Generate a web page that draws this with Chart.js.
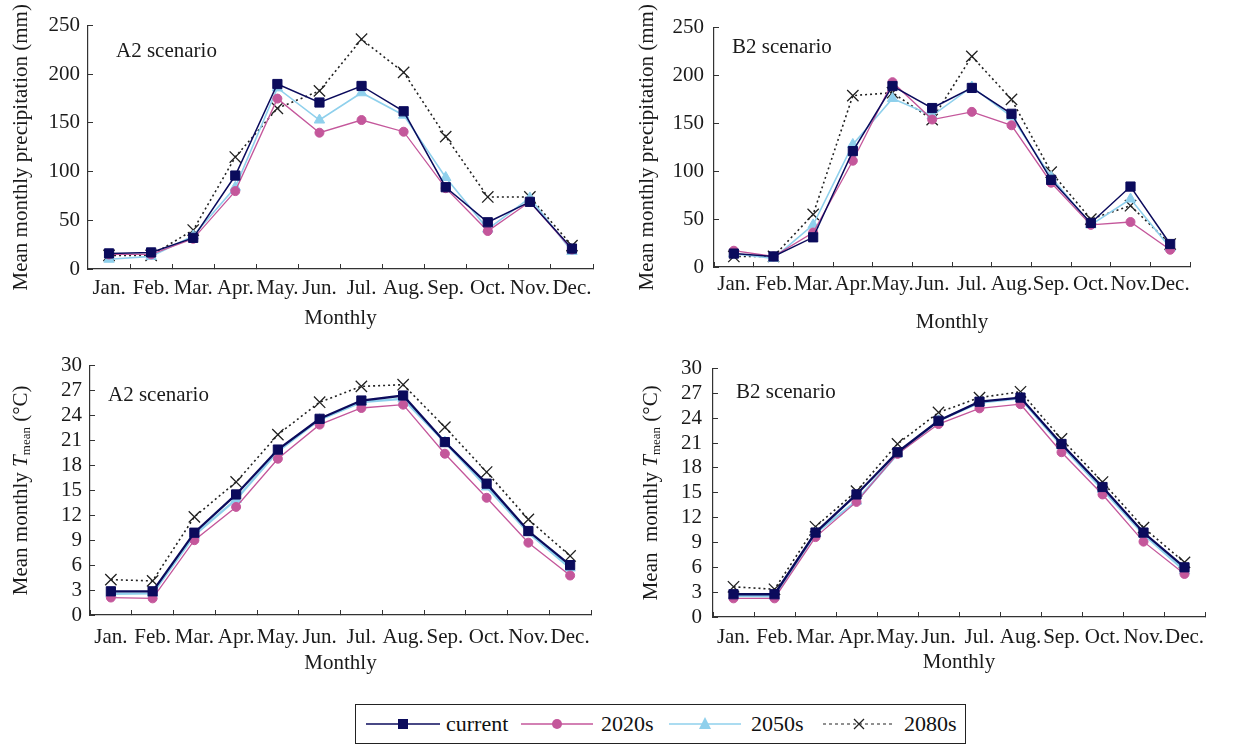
<!DOCTYPE html>
<html>
<head>
<meta charset="utf-8">
<script src="https://cdn.jsdelivr.net/npm/chart.js@4"></script>
<style>
  body { margin: 0; background: #fff; }
  #wrap { position: relative; width: 1235px; height: 747px; overflow: hidden; font-family: "Liberation Serif", "Times New Roman", serif; }
  canvas { position: absolute; }
  #legend { position: absolute; left: 355px; top: 704px; width: 609px; height: 38px; border: 1.5px solid #222; }
  #legend .s { position: absolute; top: 9px; }
  #legend .t { position: absolute; top: 6px; font-size: 22px; color: #111; }
</style>
</head>
<body>
<div id="wrap">
  <canvas id="c1" width="610" height="345" style="left:0;top:0"></canvas>
  <canvas id="c2" width="625" height="345" style="left:610px;top:0"></canvas>
  <canvas id="c3" width="610" height="345" style="left:0;top:340px"></canvas>
  <canvas id="c4" width="625" height="345" style="left:610px;top:340px"></canvas>
  <div id="legend">
    <svg class="s" style="left:10px" width="74" height="20"><line x1="0" y1="10" x2="74" y2="10" stroke="#0b0b5c" stroke-width="1.5"/><rect x="32" y="5" width="10" height="10" fill="#0b0b5c"/></svg>
    <span class="t" style="left:90px">current</span>
    <svg class="s" style="left:165px" width="72" height="20"><line x1="0" y1="10" x2="72" y2="10" stroke="#c4579b" stroke-width="1.5"/><circle cx="36" cy="10" r="5" fill="#c4579b"/></svg>
    <span class="t" style="left:245px">2020s</span>
    <svg class="s" style="left:313px" width="72" height="20"><line x1="0" y1="10" x2="72" y2="10" stroke="#8fd0ec" stroke-width="1.5"/><polygon points="36,3 42,15 30,15" fill="#8fd0ec"/></svg>
    <span class="t" style="left:395px">2050s</span>
    <svg class="s" style="left:467px" width="72" height="20"><line x1="0" y1="10" x2="72" y2="10" stroke="#222" stroke-width="1.2" stroke-dasharray="3,3"/><path d="M31,5 L41,15 M41,5 L31,15" stroke="#222" stroke-width="1.3"/></svg>
    <span class="t" style="left:548px">2080s</span>
  </div>
</div>
<script>
const months = ['Jan.', 'Feb.', 'Mar.', 'Apr.', 'May.', 'Jun.', 'Jul.', 'Aug.', 'Sep.', 'Oct.', 'Nov.', 'Dec.'];
const seriesNames = ['current', '2020s', '2050s', '2080s'];
const precipTicks = [0, 50, 100, 150, 200, 250];
const tempTicks = [0, 3, 6, 9, 12, 15, 18, 21, 24, 27, 30];

// A2 precipitation (mm)
const precipA2Current = [16, 17, 32, 96, 190, 171, 188, 162, 84, 48, 69, 21];
const precipA2_2020s = [15, 15, 31, 80, 175, 140, 153, 141, 83, 39, 69, 20];
const precipA2_2050s = [10, 13, 34, 84, 186, 153, 181, 158, 94, 41, 73, 18];
const precipA2_2080s = [14, 14, 40, 115, 165, 183, 236, 202, 136, 74, 74, 24];

// B2 precipitation (mm)
const precipB2Current = [14, 11, 31, 121, 189, 166, 187, 160, 91, 46, 84, 24];
const precipB2_2020s = [17, 11, 36, 111, 193, 154, 162, 148, 88, 44, 47, 18];
const precipB2_2050s = [14, 9, 44, 128, 176, 158, 188, 157, 94, 44, 71, 20];
const precipB2_2080s = [11, 11, 55, 179, 182, 154, 220, 175, 99, 50, 64, 24];

// A2 mean temperature (°C)
const tempA2Current = [2.85, 2.85, 9.9, 14.5, 19.9, 23.6, 25.8, 26.4, 20.8, 15.8, 10.1, 6.0];
const tempA2_2020s = [2.1, 2.0, 9.0, 13.0, 18.8, 22.9, 24.9, 25.3, 19.4, 14.1, 8.7, 4.75];
const tempA2_2050s = [2.55, 2.6, 9.6, 13.9, 19.7, 23.5, 25.6, 26.0, 20.8, 15.4, 9.9, 5.65];
const tempA2_2080s = [4.25, 4.1, 11.8, 16.0, 21.7, 25.6, 27.5, 27.7, 22.6, 17.2, 11.5, 7.1];

// B2 mean temperature (°C)
const tempB2Current = [2.75, 2.75, 10.2, 14.8, 19.9, 23.7, 26.0, 26.5, 20.9, 15.7, 10.2, 6.0];
const tempB2_2020s = [2.25, 2.25, 9.65, 13.9, 19.7, 23.3, 25.2, 25.7, 19.9, 14.8, 9.1, 5.2];
const tempB2_2050s = [2.55, 2.5, 10.1, 14.0, 19.7, 23.7, 25.9, 26.4, 20.7, 15.4, 10.0, 5.6];
const tempB2_2080s = [3.65, 3.35, 10.9, 15.2, 20.9, 24.7, 26.5, 27.2, 21.5, 16.3, 10.8, 6.6];

const FONT = '"Liberation Serif", "Times New Roman", serif';
const INK = '#1a1a1a';
const AXIS = '#333';

const styles = [
  { color: '#0b0b5c', point: 'rect', r: 6.5, width: 1.5 },
  { color: '#c4579b', point: 'circle', r: 4.5, width: 1.3 },
  { color: '#8fd0ec', point: 'triangle', r: 6, width: 1.6 },
  { color: '#222', point: 'crossRot', r: 8, width: 1.6, dash: [2, 3] }
];

// scenario label and the T_mean axis title
const annot = {
  id: 'annot',
  afterDraw(chart, args, o) {
    const { ctx, chartArea } = chart;
    ctx.save();
    ctx.fillStyle = INK;
    ctx.textBaseline = 'middle';
    ctx.font = '21px ' + FONT;
    ctx.fillText(o.text, chartArea.left + o.dx, chartArea.top + o.dy);
    if (o.tmean) {
      const parts = [
        [o.tmean, '21px ' + FONT, 0],
        ['T', 'italic 21px ' + FONT, 0],
        ['mean', '13px ' + FONT, 6],
        [' (°C)', '21px ' + FONT, 0]
      ];
      let total = 0;
      parts.forEach(p => { ctx.font = p[1]; p.push(ctx.measureText(p[0]).width); total += p[3]; });
      ctx.translate(o.tx, (chartArea.top + chartArea.bottom) / 2);
      ctx.rotate(-Math.PI / 2);
      let x = -total / 2;
      parts.forEach(p => { ctx.font = p[1]; ctx.fillText(p[0], x, p[2]); x += p[3]; });
    }
    ctx.restore();
  }
};

function makeChart(id, p) {
  const datasets = p.series.map((vals, i) => {
    const s = styles[i];
    return {
      label: seriesNames[i],
      data: vals,
      borderColor: s.color,
      backgroundColor: s.color,
      borderWidth: p.temp && i !== 1 && i !== 3 ? s.width + 0.8 : s.width,
      borderDash: s.dash || [],
      pointStyle: s.point,
      pointRadius: s.r,
      pointBackgroundColor: s.color,
      pointBorderColor: s.color,
      pointBorderWidth: i === 3 ? 1.3 : 1,
      tension: 0,
      fill: false
    };
  });
  return new Chart(document.getElementById(id), {
    type: 'line',
    data: { labels: months, datasets },
    plugins: [annot],
    options: {
      responsive: false,
      animation: false,
      devicePixelRatio: 1,
      layout: { padding: { left: 0, right: p.padRight, top: p.padTop, bottom: 0 } },
      plugins: {
        legend: { display: false },
        tooltip: { enabled: false },
        annot: { text: p.label, dx: p.labelDx, dy: p.labelDy, tmean: p.tmean, tx: p.tx }
      },
      scales: {
        x: {
          type: 'category',
          offset: true,
          afterFit: s => { s.height = p.xHeight; },
          grid: { offset: true, drawOnChartArea: false, tickLength: -5, color: AXIS, lineWidth: 1 },
          border: { display: true, color: AXIS, width: 1.2 },
          ticks: { autoSkip: false, maxRotation: 0, minRotation: 0, padding: p.xPad, color: INK, font: { family: FONT, size: 21 } },
          title: { display: true, text: 'Monthly', color: INK, font: { family: FONT, size: 21 }, padding: { top: 0, bottom: p.xTitlePad } }
        },
        y: {
          min: 0,
          max: p.ticks[p.ticks.length - 1],
          afterFit: s => { s.width = p.yWidth; },
          afterBuildTicks: s => { s.ticks = p.ticks.map(v => ({ value: v })); },
          grid: { drawOnChartArea: false, tickLength: -5, color: AXIS, lineWidth: 1 },
          border: { display: true, color: AXIS, width: 1.2 },
          ticks: { autoSkip: false, padding: p.yPad, color: INK, font: { family: FONT, size: 21 } },
          title: { display: !p.tmean, text: 'Mean monthly precipitation (mm)', color: INK, font: { family: FONT, size: 21 }, padding: { top: p.yTitlePad, bottom: 0 } }
        }
      }
    }
  });
}

makeChart('c1', {
  series: [precipA2Current, precipA2_2020s, precipA2_2050s, precipA2_2080s],
  ticks: precipTicks, label: 'A2 scenario', labelDx: 28, labelDy: 26,
  padRight: 17, padTop: 17, yWidth: 88, xHeight: 76, xPad: 12, yPad: 13, xTitlePad: 14, yTitlePad: 9
});
makeChart('c2', {
  series: [precipB2Current, precipB2_2020s, precipB2_2050s, precipB2_2080s],
  ticks: precipTicks, label: 'B2 scenario', labelDx: 18, labelDy: 20,
  padRight: 45, padTop: 15, yWidth: 104, xHeight: 78, xPad: 10, yPad: 15, xTitlePad: 10, yTitlePad: 25
});
makeChart('c3', {
  series: [tempA2Current, tempA2_2020s, tempA2_2050s, tempA2_2080s],
  ticks: tempTicks, label: 'A2 scenario', labelDx: 18, labelDy: 30, temp: true,
  tmean: 'Mean monthly ', tx: 21,
  padRight: 19, padTop: 18, yWidth: 90, xHeight: 70, xPad: 15, yPad: 13, xTitlePad: 9, yTitlePad: 0
});
makeChart('c4', {
  series: [tempB2Current, tempB2_2020s, tempB2_2050s, tempB2_2080s],
  ticks: tempTicks, label: 'B2 scenario', labelDx: 23, labelDy: 24, temp: true,
  tmean: 'Mean  monthly ', tx: 41,
  padRight: 30, padTop: 23, yWidth: 103, xHeight: 68, xPad: 13, yPad: 16, xTitlePad: 10, yTitlePad: 0
});
</script>
</body>
</html>
